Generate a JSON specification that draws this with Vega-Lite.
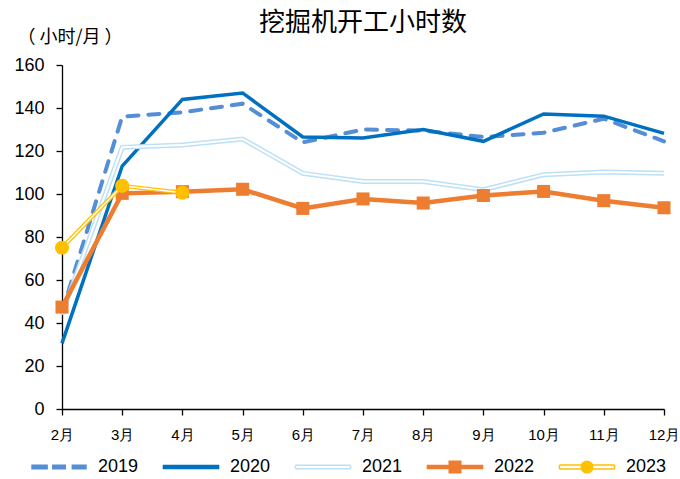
{
  "$schema": "https://vega.github.io/schema/vega-lite/v6.json",
  "width": 602,
  "height": 344,
  "autosize": "none",
  "padding": {"left": 62, "top": 65, "right": 16, "bottom": 70},
  "background": "white",
  "config": {"view": {"stroke": null}, "font": "Liberation Sans", "legend": {"symbolFillColor": "#ffffff"}},
  "title": {"text": "挖掘机开工小时数", "font": "Noto Sans CJK SC", "fontSize": 26, "fontWeight": "normal", "color": "#000000", "anchor": "middle", "offset": -8},
  "data": {"values": [
    {"month": "2月", "year": "2019", "value": 45},
    {"month": "3月", "year": "2019", "value": 136},
    {"month": "4月", "year": "2019", "value": 138},
    {"month": "5月", "year": "2019", "value": 142},
    {"month": "6月", "year": "2019", "value": 124},
    {"month": "7月", "year": "2019", "value": 130},
    {"month": "8月", "year": "2019", "value": 129.5},
    {"month": "9月", "year": "2019", "value": 126.5},
    {"month": "10月", "year": "2019", "value": 128.5},
    {"month": "11月", "year": "2019", "value": 135},
    {"month": "12月", "year": "2019", "value": 124.5},
    {"month": "2月", "year": "2020", "value": 30.5},
    {"month": "3月", "year": "2020", "value": 113},
    {"month": "4月", "year": "2020", "value": 144},
    {"month": "5月", "year": "2020", "value": 147},
    {"month": "6月", "year": "2020", "value": 126.5},
    {"month": "7月", "year": "2020", "value": 126},
    {"month": "8月", "year": "2020", "value": 130},
    {"month": "9月", "year": "2020", "value": 124.5},
    {"month": "10月", "year": "2020", "value": 137.2},
    {"month": "11月", "year": "2020", "value": 136.2},
    {"month": "12月", "year": "2020", "value": 128.2},
    {"month": "2月", "year": "2021", "value": 44},
    {"month": "3月", "year": "2021", "value": 121.7},
    {"month": "4月", "year": "2021", "value": 122.8},
    {"month": "5月", "year": "2021", "value": 125.6},
    {"month": "6月", "year": "2021", "value": 109.6},
    {"month": "7月", "year": "2021", "value": 105.8},
    {"month": "8月", "year": "2021", "value": 105.8},
    {"month": "9月", "year": "2021", "value": 102},
    {"month": "10月", "year": "2021", "value": 109},
    {"month": "11月", "year": "2021", "value": 110.2},
    {"month": "12月", "year": "2021", "value": 109.6},
    {"month": "2月", "year": "2022", "value": 47.4},
    {"month": "3月", "year": "2022", "value": 100.3},
    {"month": "4月", "year": "2022", "value": 101.1},
    {"month": "5月", "year": "2022", "value": 102.2},
    {"month": "6月", "year": "2022", "value": 93.3},
    {"month": "7月", "year": "2022", "value": 97.7},
    {"month": "8月", "year": "2022", "value": 95.8},
    {"month": "9月", "year": "2022", "value": 99.3},
    {"month": "10月", "year": "2022", "value": 101.2},
    {"month": "11月", "year": "2022", "value": 96.9},
    {"month": "12月", "year": "2022", "value": 93.6},
    {"month": "2月", "year": "2023", "value": 75},
    {"month": "3月", "year": "2023", "value": 103.8},
    {"month": "4月", "year": "2023", "value": 100.6}
  ]},
  "encoding": {
    "x": {"field": "month", "type": "ordinal",
      "scale": {"type": "point", "padding": 0, "domain": ["2月","3月","4月","5月","6月","7月","8月","9月","10月","11月","12月"]},
      "axis": {"title": null, "labelAngle": 0, "labelFontSize": 15, "labelColor": "#000000", "tickColor": "#000000", "domainColor": "#000000", "tickSize": 6, "labelPadding": 12, "domainWidth": 1.3, "tickWidth": 1.3, "grid": false}},
    "y": {"field": "value", "type": "quantitative",
      "scale": {"domain": [0, 160], "nice": false, "zero": true},
      "axis": {"title": "（ 小时/月 ）", "titleAngle": 0, "titleAlign": "left", "titleBaseline": "alphabetic", "titleX": -45, "titleY": -23, "titleFontSize": 18, "titleFontWeight": "normal", "titleFont": "Noto Sans CJK SC", "titleColor": "#000000",
        "values": [0, 20, 40, 60, 80, 100, 120, 140, 160], "labelFontSize": 18, "labelColor": "#000000", "grid": false, "tickSize": 6, "labelPadding": 12, "tickColor": "#000000", "domainColor": "#000000", "domainWidth": 1.3, "tickWidth": 1.3}}
  },
  "layer": [
    {"transform": [{"filter": "datum.year === '2019'"}],
     "mark": {"type": "line", "color": "#558ED5", "strokeWidth": 4, "strokeDash": [11, 10], "strokeCap": "round"}},
    {"transform": [{"filter": "datum.year === '2020'"}],
     "mark": {"type": "line", "color": "#0070C0", "strokeWidth": 3.5}},
    {"transform": [{"filter": "datum.year === '2021'"}],
     "mark": {"type": "line", "color": "#BCE0F5", "strokeWidth": 5}},
    {"transform": [{"filter": "datum.year === '2021'"}],
     "mark": {"type": "line", "color": "#FFFFFF", "strokeWidth": 2}},
    {"transform": [{"filter": "datum.year === '2022'"}],
     "mark": {"type": "line", "color": "#ED7D31", "strokeWidth": 4.5}},
    {"transform": [{"filter": "datum.year === '2022'"}],
     "mark": {"type": "point", "shape": "square", "filled": true, "color": "#ED7D31", "size": 170, "opacity": 1}},
    {"transform": [{"filter": "datum.year === '2023'"}],
     "mark": {"type": "line", "color": "#FFC000", "strokeWidth": 4}},
    {"transform": [{"filter": "datum.year === '2023'"}],
     "mark": {"type": "line", "color": "#FFFFFF", "strokeWidth": 1.5}},
    {"transform": [{"filter": "datum.year === '2023'"}],
     "mark": {"type": "point", "shape": "circle", "filled": true, "color": "#FFC000", "size": 200, "opacity": 1}},
    {"transform": [{"filter": "datum.month === '2月'"}],
     "mark": {"type": "point", "filled": true, "opacity": 0},
     "encoding": {
       "fill": {"field": "year", "type": "nominal",
         "scale": {"domain": ["2019","2020","2021","2022","2023"], "range": ["#558ED5","#0070C0","#BCE0F5","#ED7D31","#FFC000"]},
         "legend": {"orient": "none", "legendX": -33, "legendY": 372, "direction": "horizontal", "columns": 5, "columnPadding": 21, "symbolSize": 3364, "symbolStrokeWidth": 1.5, "symbolOpacity": 1, "labelFontSize": 18, "labelFont": "Liberation Sans", "labelColor": "#000000", "labelOffset": 9, "title": null}},
       "stroke": {"field": "year", "type": "nominal",
         "scale": {"domain": ["2019","2020","2021","2022","2023"], "range": ["#558ED5","#0070C0","#BCE0F5","#ED7D31","#FFC000"]}},
       "shape": {"field": "year", "type": "nominal",
         "scale": {"domain": ["2019","2020","2021","2022","2023"], "range": [
           "M-0.93,-0.06L-0.41,-0.06L-0.41,0.06L-0.93,0.06Z M-0.214,-0.06L0.214,-0.06L0.214,0.06L-0.214,0.06Z M0.46,-0.06L0.93,-0.06L0.93,0.06L0.46,0.06Z",
           "M-0.95,-0.05L0.95,-0.05L0.95,0.05L-0.95,0.05Z",
           "M-0.95,-0.06L0.95,-0.06M0.95,-0.06L0.95,0.06M0.95,0.06L-0.95,0.06M-0.95,0.06L-0.95,-0.06",
           "M-0.95,-0.05L0.95,-0.05L0.95,0.05L-0.95,0.05Z M-0.2,-0.2L0.2,-0.2L0.2,0.2L-0.2,0.2Z",
           "M-0.95,-0.065L0.95,-0.065M0.95,-0.065L0.95,0.065M0.95,0.065L-0.95,0.065M-0.95,0.065L-0.95,-0.065M-0.2,0A0.2,0.2,0,1,0,0.2,0A0.2,0.2,0,1,0,-0.2,0Z"
         ]}}
     }}
  ]
}
